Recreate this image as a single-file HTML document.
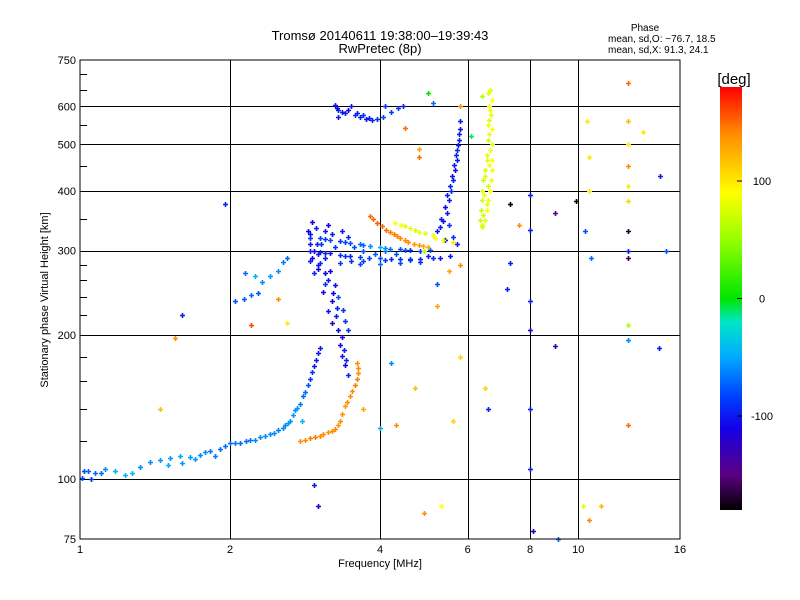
<!DOCTYPE html>
<html><head><meta charset="utf-8">
<style>
html,body{margin:0;padding:0;background:#fff;}
svg{display:block;font-family:"Liberation Sans",sans-serif;}
</style></head>
<body>
<svg id="chart" width="800" height="600" viewBox="0 0 800 600">
  <defs>
    <linearGradient id="cbgrad" x1="0" y1="1" x2="0" y2="0">
      <stop offset="0" stop-color="rgb(0,0,0)"/>
      <stop offset="0.0833" stop-color="rgb(90,0,130)"/>
      <stop offset="0.194" stop-color="rgb(20,0,230)"/>
      <stop offset="0.264" stop-color="rgb(0,60,255)"/>
      <stop offset="0.361" stop-color="rgb(0,170,255)"/>
      <stop offset="0.444" stop-color="rgb(0,230,200)"/>
      <stop offset="0.5" stop-color="rgb(0,230,0)"/>
      <stop offset="0.639" stop-color="rgb(150,255,0)"/>
      <stop offset="0.75" stop-color="rgb(255,255,0)"/>
      <stop offset="0.889" stop-color="rgb(255,140,0)"/>
      <stop offset="1" stop-color="rgb(255,0,0)"/>
    </linearGradient>
  </defs>
  <text x="380" y="40" text-anchor="middle" font-size="13">Tromsø 20140611 19:38:00–19:39:43</text>
  <text x="380" y="53" text-anchor="middle" font-size="13">RwPretec (8p)</text>
  <g font-size="10">
    <text x="645" y="31" text-anchor="middle">Phase</text>
    <text x="608" y="42">mean, sd,O: −76.7, 18.5</text>
    <text x="608" y="53">mean, sd,X:  91.3, 24.1</text>
  </g>
  <g id="grid"></g>
  <g id="points"></g>
  <rect x="80" y="60" width="600" height="479" fill="none" stroke="#000" stroke-width="1"/>
  <g id="xticks" font-size="11"></g>
  <g id="yticks" font-size="11"></g>
  <text x="380" y="567" text-anchor="middle" font-size="11">Frequency [MHz]</text>
  <text transform="translate(48,300) rotate(-90)" text-anchor="middle" font-size="11">Stationary phase Virtual Height [km]</text>
  <rect x="720" y="87" width="22" height="423" fill="url(#cbgrad)"/>
  <text x="734" y="84" text-anchor="middle" font-size="15">[deg]</text>
  <g id="cbticks" font-size="11"></g>
</svg>
<script>
const xTickVals = [1, 2, 4, 6, 8, 10, 16];
const xGridVals = [2, 4, 6, 8, 10];
const yTickVals = [75, 100, 200, 300, 400, 500, 600, 750];
const yGridVals = [100, 200, 300, 400, 500, 600];
const yMinorVals = [120, 140, 160, 180, 220, 240, 260, 280, 350, 450, 550, 650, 700];
const cbTickVals = [-100, 0, 100];

// echo points: frequency (MHz)
const freqs = [
1.009,1.038,1.072,1.122,1.175,1.231,1.32,1.38,1.447,1.516,1.587,1.662,1.741,1.822,1.909,2,2.095,2.193,2.297,2.405,2.496,2.58,2.639,2.7,2.76,2.8,2.87,2.92,2.97,3.03,2.79,
2.76,2.89,3.03,3.14,3.25,3.32,3.4,3.48,3.57,3.61,3.6,
2.05,2.13,2.2,2.28,2.32,2.41,2.5,2.56,2.6,2.25,2.14,
3.17,3.25,3.2,3.26,3.3,3.33,3.36,3.4,3.45,3.07,3.14,3.4,
2.89,3.03,3.17,3.32,3.48,3.64,3.82,4,4.19,4.39,4.6,4.82,5.04,
2.89,3.03,3.17,3.32,3.48,3.64,4,4.39,4.82,5.28,5.53,
3.03,3.32,3.64,4,4.39,4.82,
2.92,2.97,2.89,2.99,2.92,3.01,2.95,
3.82,3.95,4.11,4.26,4.39,4.56,4.78,5.0,
4.29,4.5,4.71,4.93,5.15,5.4,5.6,4.9,
5.28,5.35,5.45,5.5,5.55,5.6,5.65,5.7,5.72,5.75,5.78,5.8,5.6,5.7,5.4,
6.66,6.7,6.66,6.62,6.7,6.6,6.65,6.55,6.7,6.5,6.72,6.45,6.68,6.42,6.65,6.4,6.6,6.38,6.55,6.35,6.5,6.4,
3.25,3.3,3.4,3.5,3.56,3.65,3.75,3.85,3.95,4.05,4.2,4.35,3.3,4.45,
8,8,8,8,8,8,8.1,
12.6,12.6,12.6,12.6,12.6,12.6,12.6,12.6,12.6,12.6,12.6,12.6,
10.4,10.5,10.5,10.3,10.6,10.5,11.1,10.2,9.9,
7.3,7.6,7.3,7.2,5.8,5.5,5.2,6.6,6.5,5.6,5.8,5.2,4.7,4.9,5.3,4.2,4.0,4.3,3.7,2.95,3.0,1.95,1.6,1.55,1.45,2.2,2.5,2.6,14.5,14.6,13.5,15,9,9,9.1,4.1,4.5,4.8,4.8,5.1,5.8,6.1,6.4,5.0,
1.02,1.05,1.1,1.27,1.5,1.6,1.7,1.78,1.87,1.95,2.05,2.15,2.25,2.35,2.45,2.55,2.62,2.68,2.73,2.83,2.9,2.95,3.0,
2.83,2.96,3.08,3.2,3.29,3.36,3.44,3.52,3.6,3.62,
3.1,3.15,3.22,3.28,3.2,3.35,3.38,3.42,3.1,3.3,3.37,3.45,
2.87,2.9,2.95,3.0,3.05,3.1,3.15,3.2,3.25,3.35,3.45,3.55,3.7,3.9,4.1,4.3,2.9,3.0,3.1,3.5,3.7,4.1,4.6,5.0,
5.3,5.4,5.45,5.52,5.58,5.62,5.68,5.73,5.76,5.5,5.2,
6.6,6.62,6.68,6.58,6.63,6.7,6.55,6.62,6.5,6.6,6.48,6.55,6.45,6.42,
3.28,3.35,3.45,3.6,3.7,3.8,
3.1,3.4,3.7,4.1,4.5,3.1,3.4,3.8,4.2,4.6,5.1,
3.88,4.03,4.18,4.32,4.48,4.67,4.89,4.4,4.6,4.8,5.1,5.35
];
// echo points: virtual height (km)
const heights = [
100.7,103.9,102.9,104.9,103.9,101.8,105.9,108.6,109.6,110.9,112,111.5,112.5,114.6,115.7,118.9,118.9,121,122.3,124.1,126.5,129.7,132.5,139.3,143.8,149.3,157.5,167.6,177.7,188,132.5,
120,122,123.3,125.3,127.2,132,142,149,157.6,166.8,175,
236,238,242,245,258,266,272,284,289,266,269,
272,254,236,219,205,191,181,173,165,246,224,214,
319,318,316,314,311,309,307,305,303,302,301,300,301,
300,298,296,294,292,291,289,288,288,290,293,
283,282,281,281,282,284,
345,335,325,310,290,280,270,
355,343,331,325,319,313,308,305,
342,337,331,326,319,317,313,300,
336,346,359,383,400,421,442,463,487,510,538,560,320,310,315,
650,620,590,562,538,510,487,463,463,442,442,421,421,400,400,383,383,365,365,347,347,336,
604,590,581,600,575,570,565,562,565,570,585,595,570,602,
331,392,205,236,140,105,78,
670,560,500,450,410,380,330,300,290,210,195,130,
560,470,400,330,290,82,88,88,380,
375,340,282,250,280,272,255,140,155,132,180,230,155,85,88,175,128,130,140,97,88,375,220,197,140,210,238,212,188,430,530,300,360,190,75,600,540,470,490,610,600,520,630,640,
104,100,103,103,107,108,110,114,112,117,119,120,121,123,125,128,131,136,141,152,162,172,183,
121,122.5,124,126,130,137,145,153,162,171,
270,260,245,228,212,198,186,177,255,240,225,205,
330,310,300,295,310,330,340,325,305,330,320,305,300,295,300,295,285,275,290,285,285,287,287,292,
350,370,392,410,430,452,475,498,525,340,330,
640,600,575,550,525,500,475,452,430,410,392,375,356,340,
595,585,590,580,575,568,
317,312,308,304,301,297,293,290,288,288,289,
349,337,328,322,316,310,306,340,334,328,323,315
];
// echo points: phase (deg)
const phases = [
-80,-75,-70,-60,-45,-45,-60,-60,-55,-55,-50,-55,-60,-65,-70,-70,-70,-65,-60,-60,-65,-60,-60,-60,-65,-70,-80,-90,-100,-100,-45,
140,145,140,135,140,140,135,140,145,140,140,
-80,-75,-70,-80,-60,-55,-60,-65,-70,-45,-70,
-110,-105,-115,-100,-110,-105,-100,-110,-95,-120,-100,-90,
-90,-85,-80,-90,-80,-70,-60,-50,-70,-80,-90,-85,-80,
-100,-95,-100,-90,-95,-85,-80,-90,-95,-100,-100,
-90,-85,-80,-70,-80,-90,
-110,-100,-105,-100,-110,-100,-95,
150,155,150,145,140,140,135,130,
90,80,70,75,85,90,100,60,
-100,-105,-100,-100,-95,-100,-105,-100,-95,-100,-105,-100,-90,-100,-95,
80,90,85,75,90,70,85,80,90,75,85,70,95,80,90,75,85,70,90,70,80,75,
-100,-90,-95,-100,-90,-95,-100,-95,-90,-80,-85,-90,-100,-95,
-100,-100,-120,-100,-100,-100,-120,
150,120,100,140,100,110,-170,-100,-160,60,-60,150,
100,100,100,-80,-70,140,120,80,-180,
-180,140,-100,-100,140,130,-80,-100,110,110,110,130,120,140,90,-60,-50,140,130,-100,-120,-100,-100,140,120,160,140,100,-100,-100,100,-80,-150,-130,-70,-90,150,150,130,-70,140,-10,60,0,
-80,-90,-70,-45,-50,-55,-55,-60,-65,-70,-65,-70,-60,-60,-60,-60,-55,-55,-55,-70,-90,-100,-100,
140,145,140,140,135,140,140,140,145,140,
-110,-100,-110,-100,-120,-110,-100,-95,-90,-80,-90,-90,
-110,-100,-110,-100,-90,-100,-110,-100,-90,-100,-95,-80,-80,-75,-70,-80,-100,-110,-100,-90,-85,-90,-90,-95,
-100,-110,-100,-100,-100,-100,-100,-100,-100,-90,-100,
80,85,80,85,80,75,80,85,80,75,85,80,70,75,
-110,-100,-110,-100,-90,-100,
-90,-85,-70,-60,-80,-95,-90,-85,-95,-90,-95,
150,150,145,140,140,135,130,85,80,85,90,95
];

const NS = "http://www.w3.org/2000/svg";
const X0 = 80, XW = 600, Y0 = 60, YH = 479;
function xScale(f) { return X0 + XW * Math.log2(f) / 4; }
function yScale(h) { return Y0 + YH - YH * Math.log10(h / 75); }
function cbScale(v) { return 510 - (v + 180) / 360 * 423; }

const cStops = [[-180,0,0,0],[-150,90,0,130],[-110,20,0,230],[-85,0,60,255],[-50,0,170,255],[-20,0,230,200],[0,0,230,0],[50,150,255,0],[90,255,255,0],[140,255,140,0],[180,255,0,0]];
function phaseColor(v) {
  v = Math.max(-180, Math.min(180, v));
  for (let i = 0; i < cStops.length - 1; i++) {
    const a = cStops[i], b = cStops[i + 1];
    if (v >= a[0] && v <= b[0]) {
      const t = (v - a[0]) / (b[0] - a[0]);
      return "rgb(" + [1,2,3].map(k => Math.round(a[k] + t * (b[k] - a[k]))).join(",") + ")";
    }
  }
  return "rgb(255,0,0)";
}
function mk(tag, attrs, parent) {
  const el = document.createElementNS(NS, tag);
  for (const k in attrs) el.setAttribute(k, attrs[k]);
  parent.appendChild(el);
  return el;
}

const grid = document.getElementById("grid");
xGridVals.forEach(v => {
  const x = Math.round(xScale(v)) + 0.5;
  const l = mk("line", {x1: x, x2: x, y1: Y0, y2: Y0 + YH, stroke: "#000", "stroke-width": 1}, grid);
  
  
});
yGridVals.forEach(v => {
  const y = Math.round(yScale(v)) + 0.5;
  const l = mk("line", {x1: X0, x2: X0 + XW, y1: y, y2: y, stroke: "#000", "stroke-width": 1}, grid);
  
  
});

const xt = document.getElementById("xticks");
xTickVals.forEach(v => {
  const x = xScale(v);
  const t = mk("text", {x: x, y: 553, "text-anchor": "middle"}, xt);
  t.textContent = v;
  
  
});
const yt = document.getElementById("yticks");
yTickVals.forEach(v => {
  const y = yScale(v);
  const t = mk("text", {x: 76, y: y + 4, "text-anchor": "end"}, yt);
  t.textContent = v;
  
  
});
yMinorVals.forEach(v => {
  const y = Math.round(yScale(v)) + 0.5;
  const l = mk("line", {x1: X0, x2: X0 + 7, y1: y, y2: y, stroke: "#000", "stroke-width": 1}, yt);
  
  
});

const cb = document.getElementById("cbticks");
cbTickVals.forEach(v => {
  const y = cbScale(v);
  const l = mk("line", {x1: 737, x2: 742, y1: y, y2: y, stroke: "#000", "stroke-width": 1}, cb);
  
  
  const t = mk("text", {x: 762, y: y + 4, "text-anchor": "middle"}, cb);
  t.textContent = v;
  
  
});

const pts = document.getElementById("points");
for (let i = 0; i < freqs.length; i++) {
  const x = Math.round(xScale(freqs[i])) + 0.5, y = Math.round(yScale(heights[i])) + 0.5;
  const c = phaseColor(phases[i]);
  const p = mk("path", {d: "M" + (x - 2.5) + " " + y + "h5M" + x + " " + (y - 2.5) + "v5", stroke: c, "stroke-width": 1.6, fill: "none"}, pts);
  
  
}
</script>
</body></html>
